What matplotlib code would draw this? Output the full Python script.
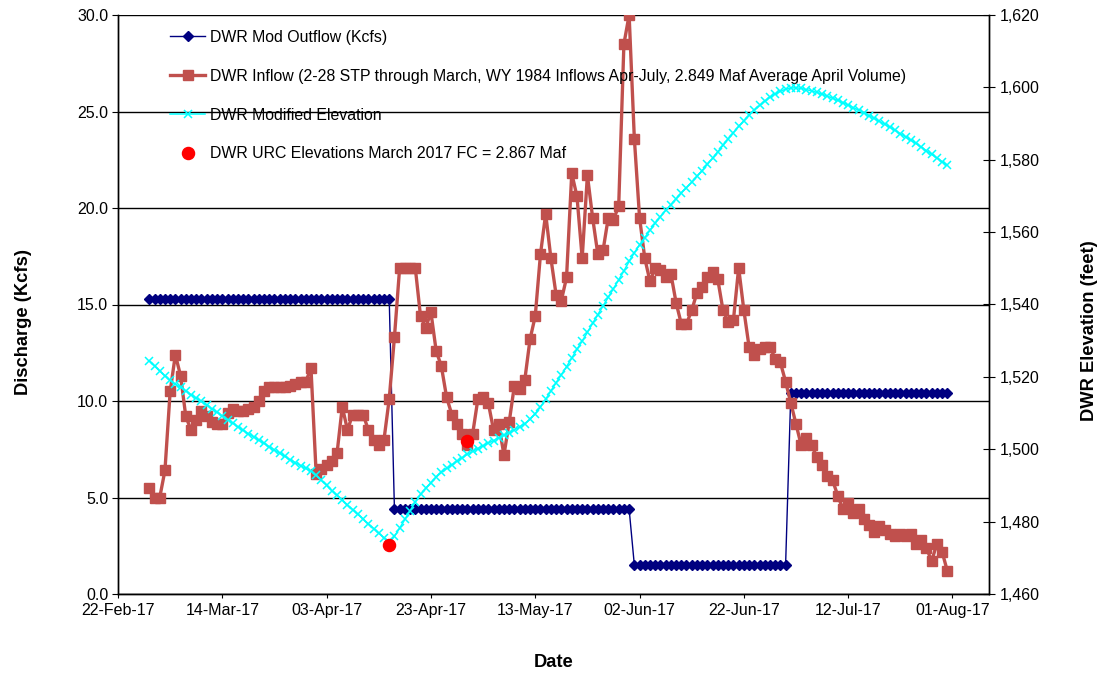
import matplotlib
matplotlib.use("Agg")
import matplotlib.pyplot as plt
import matplotlib.dates as mdates
import pandas as pd
import numpy as np

plt.rcParams['font.family'] = ['Liberation Sans', 'DejaVu Sans']

# ---------------- data ----------------
start_date = "2017-02-28"
end_date = "2017-07-31"

outflow = ([15.3] * 47) + ([4.4] * 46) + ([1.5] * 30) + ([10.4] * 31)

inflow = [
    5.5,                                                    # Feb 28
    5.0, 5.0, 6.4, 10.5, 12.4, 11.3, 9.2, 8.5, 9.0, 9.5,    # Mar 1-10
    9.2, 8.9, 8.8, 8.8, 9.4, 9.6, 9.5, 9.5, 9.6, 9.7,       # Mar 11-20
    10.0, 10.5, 10.7, 10.7, 10.7, 10.7, 10.8, 10.9, 11.0, 11.0, 11.7,  # Mar 21-31
    6.2, 6.5, 6.7, 6.9, 7.3, 9.7, 8.5, 9.3, 9.3, 9.3,       # Apr 1-10
    8.5, 8.0, 7.7, 8.0, 10.1, 13.3, 16.9, 16.9, 16.9, 16.9, # Apr 11-20
    14.4, 13.8, 14.6, 12.6, 11.8, 10.2, 9.3, 8.8, 8.3, 7.7, # Apr 21-30
    8.3, 10.1, 10.2, 9.9, 8.5, 8.8, 7.2, 8.9, 10.8, 10.6,   # May 1-10
    11.1, 13.2, 14.4, 17.6, 19.7, 17.4, 15.5, 15.2, 16.4, 21.8,  # May 11-20
    20.6, 17.4, 21.7, 19.5, 17.6, 17.8, 19.5, 19.4, 20.1, 28.5, 30.0,  # May 21-31
    23.6, 19.5, 17.4, 16.2, 16.9, 16.8, 16.4, 16.6, 15.1, 14.0,  # Jun 1-10
    14.0, 14.7, 15.6, 15.9, 16.4, 16.7, 16.3, 14.7, 14.1, 14.2,  # Jun 11-20
    16.9, 14.7, 12.8, 12.4, 12.7, 12.8, 12.8, 12.2, 12.0, 11.0,  # Jun 21-30
    9.9, 8.8, 7.7, 8.1, 7.7, 7.1, 6.7, 6.1, 5.9, 5.1,       # Jul 1-10
    4.4, 4.7, 4.2, 4.4, 3.9, 3.6, 3.2, 3.5, 3.3, 3.1,       # Jul 11-20
    3.0, 3.1, 3.0, 3.1, 2.6, 2.8, 2.4, 1.7, 2.6, 2.2, 1.2,  # Jul 21-31
]

elevation = [
    1524.5,                                                  # Feb 28
    1523.0, 1521.6, 1520.3, 1519.0, 1518.0, 1517.1, 1516.1, 1515.1, 1514.1, 1513.2,  # Mar 1-10
    1512.2, 1511.2, 1510.2, 1509.2, 1508.2, 1507.2, 1506.2, 1505.2, 1504.3, 1503.4,  # Mar 11-20
    1502.5, 1501.6, 1500.7, 1499.8, 1498.9, 1498.0, 1497.1, 1496.3, 1495.5, 1494.7, 1493.9,  # Mar 21-31
    1492.8, 1491.4, 1490.0, 1488.6, 1487.3, 1486.0, 1484.6, 1483.3, 1482.0, 1480.7,  # Apr 1-10
    1479.4, 1478.1, 1476.8, 1475.5, 1474.3, 1475.9, 1478.2, 1480.6, 1483.0, 1485.4,  # Apr 11-20
    1487.5, 1489.2, 1490.8, 1492.3, 1493.6, 1494.7, 1495.7, 1496.7, 1497.7, 1498.6,  # Apr 21-30
    1499.4, 1500.2, 1501.0, 1501.7, 1502.4, 1503.1, 1503.8, 1504.5, 1505.3, 1506.2,  # May 1-10
    1507.1, 1508.3, 1509.8, 1511.7, 1513.8, 1516.1, 1518.4, 1520.6, 1522.8, 1525.2,  # May 11-20
    1527.6, 1529.9, 1532.3, 1534.8, 1537.2, 1539.6, 1542.0, 1544.4, 1546.8, 1549.3, 1551.9,  # May 21-31
    1554.3, 1556.5, 1558.5, 1560.5, 1562.5, 1564.3, 1566.0, 1567.6, 1569.2, 1570.8,  # Jun 1-10
    1572.3, 1573.8, 1575.4, 1577.0, 1578.7, 1580.4, 1582.2, 1584.0, 1585.8, 1587.5,  # Jun 11-20
    1589.2, 1590.8, 1592.3, 1593.7, 1595.0, 1596.2, 1597.3, 1598.2, 1598.9, 1599.5,  # Jun 21-30
    1599.8, 1599.9, 1599.7, 1599.4, 1599.0, 1598.6, 1598.1, 1597.6, 1597.0, 1596.4,  # Jul 1-10
    1595.8, 1595.1, 1594.4, 1593.7, 1593.0, 1592.2, 1591.4, 1590.6, 1589.8, 1589.0,  # Jul 11-20
    1588.1, 1587.2, 1586.3, 1585.4, 1584.5, 1583.5, 1582.5, 1581.5, 1580.5, 1579.5, 1578.5,  # Jul 21-31
]

urc_dates = ["2017-04-15", "2017-04-30"]
urc_elev = [1473.5, 1502.4]

labels = [
    "DWR Mod Outflow (Kcfs)",
    "DWR Inflow (2-28 STP through March, WY 1984 Inflows Apr-July, 2.849 Maf Average April Volume)",
    "DWR Modified Elevation",
    "DWR URC Elevations March 2017 FC = 2.867 Maf",
]

# ---------------- plot ----------------
dates = pd.date_range(start_date, end_date, freq="D")
udates = pd.to_datetime(urc_dates)

fig = plt.figure(figsize=(10.98, 6.73), dpi=100)
ax = fig.add_axes([118 / 1098, 79 / 673, 871 / 1098, 579 / 673])
ax2 = ax.twinx()

l1, = ax.plot(dates, outflow, color="#000080", lw=1.0, marker="D", ms=5.5,
              mec="#000080", mfc="#000080", zorder=3)
l2, = ax.plot(dates, inflow, color="#C0504D", lw=2.4, marker="s", ms=7.3,
              mec="#C0504D", mfc="#C0504D", zorder=4)
l3, = ax2.plot(dates, elevation, color="#00FFFF", lw=1.1, marker="x", ms=5.5,
               mew=1.1, zorder=3)
l4, = ax2.plot(udates, urc_elev, ls="none", marker="o", ms=8.7, color="#FF0000",
               mec="#FF0000", zorder=5)

ax.set_ylim(0, 30)
ax.set_yticks(np.arange(0, 30.1, 5))
ax.yaxis.set_major_formatter(matplotlib.ticker.FormatStrFormatter("%.1f"))
ax2.set_ylim(1460, 1620)
ax2.set_yticks(np.arange(1460, 1621, 20))
ax2.yaxis.set_major_formatter(matplotlib.ticker.FuncFormatter(lambda v, p: f"{v:,.0f}"))

x0 = pd.Timestamp("2017-02-22")
x1 = pd.Timestamp("2017-08-08")
ax.set_xlim(x0, x1)
ax.set_xticks(pd.date_range(x0, x1, freq="20D"))
ax.xaxis.set_major_formatter(mdates.DateFormatter("%d-%b-%y"))

ax.grid(axis="y", color="black", lw=1.0)
ax.set_axisbelow(True)

for a in (ax, ax2):
    for s in a.spines.values():
        s.set_color("black")
        s.set_linewidth(1.0)
ax.spines["top"].set_visible(False)
ax2.spines["top"].set_visible(False)

ax.tick_params(axis="y", labelsize=11.5, direction="out", length=4, pad=3, colors="black")
ax.tick_params(axis="x", labelsize=11.5, direction="out", length=3, pad=3.5, colors="black")
ax2.tick_params(axis="y", labelsize=11.5, direction="inout", length=9, pad=3)

ax.set_ylabel("Discharge (Kcfs)", fontsize=13.2, fontweight="bold")
ax.yaxis.set_label_coords(-0.099, 0.47)
ax2.set_ylabel("DWR Elevation (feet)", fontsize=13.2, fontweight="bold")
ax2.yaxis.set_label_coords(1.106, 0.455)
ax.set_xlabel("Date", fontsize=13.2, fontweight="bold", labelpad=26)

leg = ax.legend([l1, l2, l3, l4], labels, loc="upper left",
                bbox_to_anchor=(0.053, 0.985), frameon=False, fontsize=11.4,
                handlelength=2.2, handletextpad=0.3, labelspacing=1.5,
                borderaxespad=0)
leg.set_zorder(10)

fig.savefig("out.png", dpi=100)
